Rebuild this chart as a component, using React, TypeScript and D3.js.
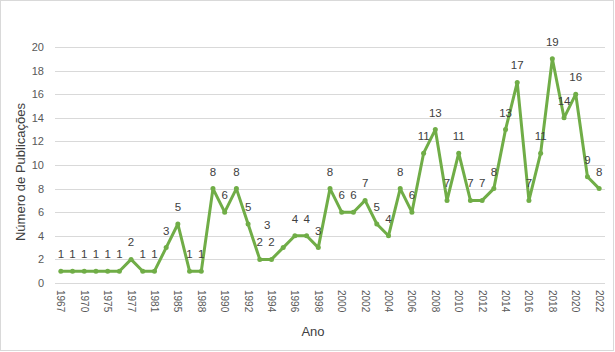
import React, {useRef, useEffect} from 'react'
import * as d3 from 'd3'

// years shown on the category axis (some early years are gaps)
const years = [
  '1967', '1969', '1970', '1973', '1975', '1976', '1977', '1979', '1981', '1983', '1985', '1986',
  '1988', '1989', '1990', '1991', '1992', '1993', '1994', '1995', '1996', '1997', '1998', '1999',
  '2000', '2001', '2002', '2003', '2004', '2005', '2006', '2007', '2008', '2009', '2010', '2011',
  '2012', '2013', '2014', '2015', '2016', '2017', '2018', '2019', '2020', '2021', '2022'
]

const publications = [
  1, 1, 1, 1, 1, 1, 2, 1, 1, 3, 5, 1,
  1, 8, 6, 8, 5, 2, 2, 3, 4, 4, 3, 8,
  6, 6, 7, 5, 4, 8, 6, 11, 13, 7, 11, 7,
  7, 8, 13, 17, 7, 11, 19, 14, 16, 9, 8
]

const yTicks = [0, 2, 4, 6, 8, 10, 12, 14, 16, 18, 20]

const yTitle = 'Número de Publicações'
const xTitle = 'Ano'

const layout = {width: 615, height: 352, left: 55, right: 605, top: 47, bottom: 283}

const App = () => {
  const ref = useRef<SVGSVGElement>(null)

  useEffect(() => {
    const svg = d3.select(ref.current)
    svg.selectAll('*').remove()

    const font = '"Liberation Sans", Arial, sans-serif'

    const x = d3.scalePoint<string>()
      .domain(years)
      .range([layout.left, layout.right])
      .padding(0.5)

    const y = d3.scaleLinear()
      .domain([0, 20])
      .range([layout.bottom, layout.top])

    // chart frame
    svg.append('rect')
      .attr('x', 0.5).attr('y', 0.5)
      .attr('width', layout.width - 2).attr('height', layout.height - 2)
      .attr('fill', 'white')
      .attr('stroke', '#d9d9d9')

    // gridlines
    svg.append('g')
      .selectAll('line')
      .data(yTicks)
      .join('line')
      .attr('x1', layout.left).attr('x2', layout.right)
      .attr('y1', d => Math.round(y(d)) + 0.5).attr('y2', d => Math.round(y(d)) + 0.5)
      .attr('stroke', '#d9d9d9')

    // y labels
    svg.append('g')
      .selectAll('text')
      .data(yTicks)
      .join('text')
      .attr('x', 44)
      .attr('y', d => y(d) + 4)
      .attr('text-anchor', 'end')
      .attr('font-family', font)
      .attr('font-size', 11)
      .attr('fill', '#595959')
      .text(d => d)

    // x labels, every other category
    svg.append('g')
      .selectAll('text')
      .data(years.filter((d, i) => i % 2 === 0))
      .join('text')
      .attr('transform', d => `translate(${x(d)! - 3.5}, 290) rotate(90)`)
      .attr('font-family', font)
      .attr('font-size', 10)
      .attr('fill', '#595959')
      .text(d => d)

    // axis titles
    svg.append('text')
      .attr('transform', 'translate(25, 172) rotate(-90)')
      .attr('text-anchor', 'middle')
      .attr('font-family', font)
      .attr('font-size', 13)
      .attr('fill', '#404040')
      .text(yTitle)

    svg.append('text')
      .attr('x', 313).attr('y', 336)
      .attr('text-anchor', 'middle')
      .attr('font-family', font)
      .attr('font-size', 13)
      .attr('fill', '#404040')
      .text(xTitle)

    const pts = years.map((d, i) => ({year: d, value: publications[i]}))

    const line = d3.line<{year: string, value: number}>()
      .x(d => x(d.year)!)
      .y(d => y(d.value))

    svg.append('path')
      .datum(pts)
      .attr('d', line)
      .attr('fill', 'none')
      .attr('stroke', '#70ad47')
      .attr('stroke-width', 3)
      .attr('stroke-linejoin', 'round')

    svg.append('g')
      .selectAll('circle')
      .data(pts)
      .join('circle')
      .attr('cx', d => x(d.year)!)
      .attr('cy', d => y(d.value))
      .attr('r', 2.5)
      .attr('fill', '#70ad47')

    // Excel nudged a few labels to avoid overlap
    const nudge: Record<string, [number, number]> = {'1995': [-16, -6]}

    svg.append('g')
      .selectAll('text')
      .data(pts)
      .join('text')
      .attr('x', d => x(d.year)! + (nudge[d.year]?.[0] ?? 0))
      .attr('y', d => y(d.value) - 13 + (nudge[d.year]?.[1] ?? 0))
      .attr('text-anchor', 'middle')
      .attr('font-family', font)
      .attr('font-size', 11.5)
      .attr('fill', '#404040')
      .text(d => d.value)
  }, [])

  return (
    <div style={{position: 'absolute', left: 0, top: 0}}>
      <svg ref={ref} width={layout.width} height={layout.height} />
    </div>
  )
}

export default App
